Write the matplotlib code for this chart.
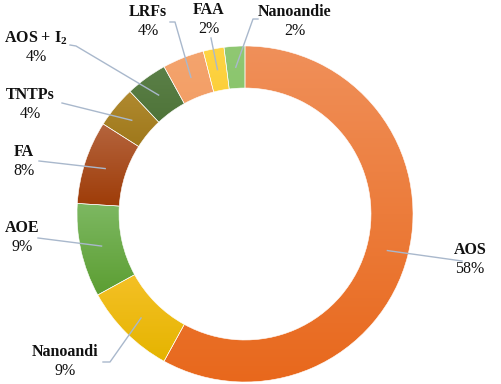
import numpy as np
import matplotlib.pyplot as plt
from matplotlib.colors import LinearSegmentedColormap

plt.rcParams['font.family'] = ['Liberation Serif', 'DejaVu Serif']
plt.rcParams['mathtext.fontset'] = 'custom'
plt.rcParams['mathtext.rm'] = 'Liberation Serif'
plt.rcParams['mathtext.bf'] = 'Liberation Serif:bold'
plt.rcParams['mathtext.default'] = 'bf'

# data
labels = ["AOS", "Nanoandi", "AOE", "FA", "TNTPs", "AOS + I$_2$", "LRFs", "FAA", "Nanoandie"]
values = [58, 9, 9, 8, 4, 4, 4, 2, 2]

# gradient colours per slice (top, bottom)
top_colors = ["#F0905A", "#FFC940", "#7DB862", "#B5653E", "#B08A30", "#5B8048", "#F4A46E", "#FFD445", "#90C873"]
bot_colors = ["#E8681C", "#E5B400", "#5C9E32", "#9C3803", "#8A6200", "#3B6020", "#F09455", "#F2C21C", "#7CBE5C"]

# layout in pixels (y measured from top)
cx, cy = 245, 214
R_out, ring = 168, 42
label_xy = [(470, 250), (65, 352), (22, 228), (24, 152), (30, 95), (36, 38), (148, 12), (209, 10), (295, 12)]
leader_pts = [[(462, 261)], [(103, 362), (110, 362)], [(38, 238)], [(39, 161)], [(62, 103)],
              [(70, 45), (76, 46)], [(170, 22), (175, 22)], [(211, 38)], [(258, 19), (253, 19)]]

fig = plt.figure(figsize=(5.02, 3.84), dpi=100)
ax = fig.add_axes([0, 0, 1, 1])
H = 384

wedges, _ = ax.pie(values, startangle=90, counterclock=False, radius=R_out,
                   center=(cx, H - cy), frame=True,
                   wedgeprops=dict(width=ring, edgecolor='white', linewidth=0.4))

for w, c1, c2 in zip(wedges, top_colors, bot_colors):
    w.set_facecolor('none')
    cmap = LinearSegmentedColormap.from_list('g', [c2, c1])
    path = w.get_path()
    verts = w.get_transform().transform(path.vertices)
    verts = ax.transData.inverted().transform(verts)
    x0, x1 = verts[:, 0].min(), verts[:, 0].max()
    y0, y1 = verts[:, 1].min(), verts[:, 1].max()
    grad = np.linspace(0, 1, 256).reshape(-1, 1)
    im = ax.imshow(grad, cmap=cmap, origin='lower', extent=(x0, x1, y0, y1),
                   aspect='auto', zorder=1, interpolation='bilinear')
    im.set_clip_path(w)
    w.set_zorder(2)

ax.set_xlim(0, 502)
ax.set_ylim(0, H)
ax.set_aspect('equal')
ax.axis('off')

total = sum(values)
cum = 0
for i, (lab, v) in enumerate(zip(labels, values)):
    mid = 90 - 360 * (cum + v / 2) / total
    cum += v
    r = R_out - ring / 2
    px = cx + r * np.cos(np.radians(mid))
    py = cy - r * np.sin(np.radians(mid))
    pts = leader_pts[i] + [(px, py)]
    ax.plot([p[0] for p in pts], [H - p[1] for p in pts], color='#A9B8CC', lw=1.0, zorder=3)
    tx, ty = label_xy[i]
    ax.text(tx, H - ty, lab, ha='center', va='center', fontsize=11.5, fontweight='bold', color='#111111')
    ax.text(tx, H - ty - 19, f"{v}%", ha='center', va='center', fontsize=11.5, color='#111111')

fig.savefig('out.png', dpi=100)
